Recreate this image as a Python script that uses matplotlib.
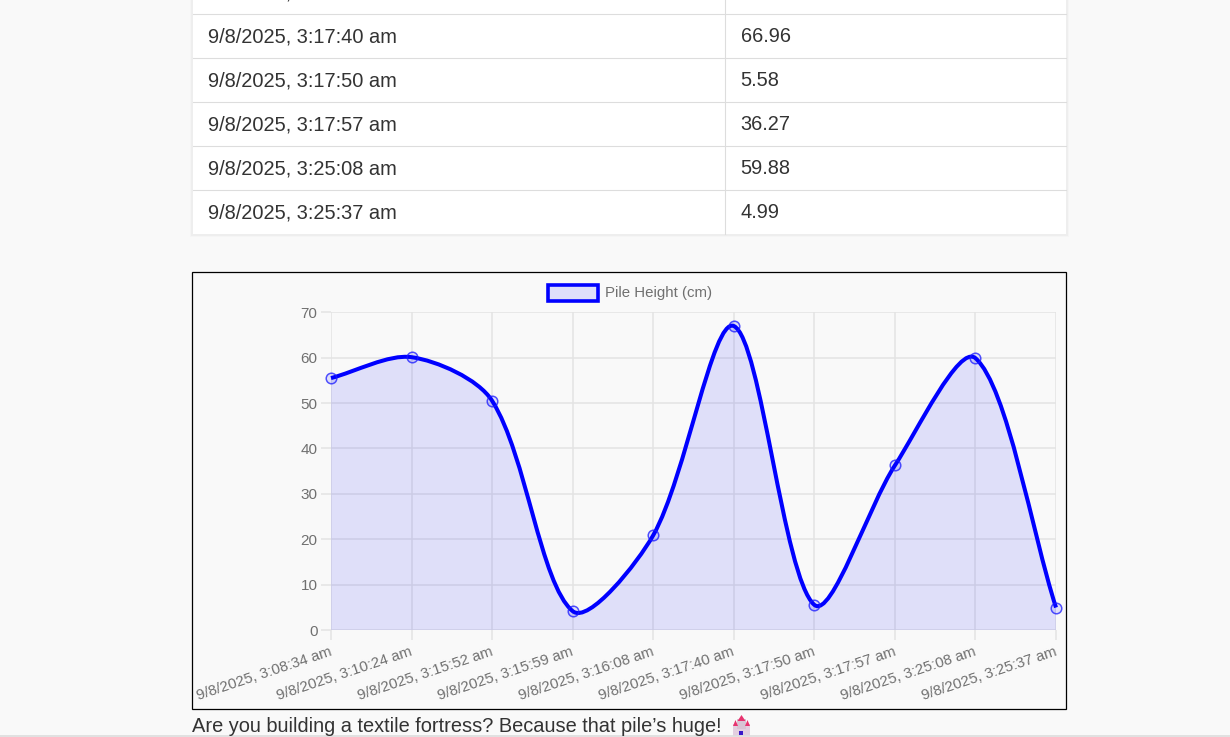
import matplotlib
matplotlib.use('Agg')
import matplotlib.pyplot as plt
import matplotlib.transforms as mtransforms
import numpy as np
from matplotlib.path import Path
from matplotlib.patches import PathPatch, Rectangle, Polygon

plt.rcParams['font.family'] = ['Liberation Sans', 'DejaVu Sans']

W, H = 1230, 737

time_labels = ["9/8/2025, 3:08:34 am", "9/8/2025, 3:10:24 am", "9/8/2025, 3:15:52 am",
               "9/8/2025, 3:15:59 am", "9/8/2025, 3:16:08 am", "9/8/2025, 3:17:40 am",
               "9/8/2025, 3:17:50 am", "9/8/2025, 3:17:57 am", "9/8/2025, 3:25:08 am",
               "9/8/2025, 3:25:37 am"]
pile_height = [55.5, 60.1, 50.5, 4.2, 20.9, 66.96, 5.58, 36.27, 59.88, 4.99]
y_ticks = [0, 10, 20, 30, 40, 50, 60, 70]

table_times = time_labels[4:]
table_values = ["21.0", "66.96", "5.58", "36.27", "59.88", "4.99"]
caption = "Are you building a textile fortress? Because that pile\u2019s huge!"
legend_label = "Pile Height (cm)"

TEXT = '#333333'
GRID = '#e4e4e4'
GRAY = '#707070'
BLUE = '#0000ff'

fig = plt.figure(figsize=(W / 100, H / 100), dpi=100, facecolor='#f9f9f9')

# page layer in pixel coordinates
page = fig.add_axes([0, 0, 1, 1])
page.set_xlim(0, W)
page.set_ylim(H, 0)
page.axis('off')

# table
for off, col in [(2, '#f5f5f5'), (1, '#eeeeee')]:
    page.add_patch(Rectangle((192 - off, -5), 875 + 2 * off, 240 + off, fc=col, ec='none'))
page.add_patch(Rectangle((193, -5), 873, 239, fc='white', ec='none'))
row_lines = [14, 58, 102, 146, 190]
for y in row_lines:
    page.plot([193, 1066], [y, y], color='#dddddd', lw=0.8)
page.plot([725, 725], [-5, 234], color='#dddddd', lw=0.8)
for i in range(len(table_times)):
    base = -2 + 44 * i
    page.text(208, base, table_times[i], fontsize=14.4, color=TEXT, va='baseline', clip_on=True)
    page.text(740.6, base, table_values[i], fontsize=14.4, color=TEXT, va='baseline', clip_on=True)

# chart box
page.add_patch(Rectangle((192, 272), 874, 437, fc='#f9f9f9', ec='black', lw=0.9))

# caption
page.text(192, 726, caption, fontsize=14.4, color=TEXT, va='center')

# castle emoji drawn from small shapes
page.add_patch(Rectangle((733, 724), 17, 12, fc='#e3cfe0', ec='none'))
page.add_patch(Rectangle((737, 719), 9, 10, fc='#d8c4d4', ec='none'))
page.add_patch(Polygon([[733, 726], [738, 726], [735.5, 720]], fc='#e8336f', ec='none'))
page.add_patch(Polygon([[745, 726], [750, 726], [747.5, 720]], fc='#e8336f', ec='none'))
page.add_patch(Polygon([[737.5, 721], [745.5, 721], [741.5, 715]], fc='#e8336f', ec='none'))
page.add_patch(Rectangle((739, 731), 4, 4, fc='#3a18c8', ec='none'))

# page footer line
page.plot([0, W], [735.5, 735.5], color='#dddddd', lw=1.2)

# legend
page.add_patch(Rectangle((547.5, 285), 50.5, 15.5, fc='#dedefa', ec=BLUE, lw=2.6))
page.text(605, 292.5, legend_label, fontsize=10.8, color=GRAY, va='center')

# chart axes: x 331..1056, y 312..630
ax = fig.add_axes([331 / W, 1 - 630.2 / H, 725 / W, 318 / H])
ax.patch.set_alpha(0)
ax.set_xlim(0, 9)
ax.set_ylim(0, 70)
for s in ax.spines.values():
    s.set_visible(False)
ax.set_axisbelow(True)
ax.grid(True, color=GRID, lw=1.1)
ax.set_xticks(range(len(time_labels)))
ax.set_xticklabels(time_labels, rotation=18.5, ha='right', va='top', rotation_mode='anchor',
                   fontsize=10.8, color=GRAY)
ax.set_yticks(y_ticks)
ax.tick_params(axis='both', color=GRID, width=1.1, length=7.2)
ax.tick_params(axis='y', labelsize=11, labelcolor=GRAY, pad=2.5)
ax.tick_params(axis='x', pad=3)
# tick_params resets label transforms, so nudge after it
shift = mtransforms.ScaledTranslation(-2 / 100, 0, fig.dpi_scale_trans)
for lab in ax.get_xticklabels():
    lab.set_transform(lab.get_transform() + shift)

# bezier control points worked out in pixel space
xs = np.arange(len(pile_height), dtype=float)
pts = ax.transData.transform(np.column_stack([xs, pile_height]))
n = len(pts)
tension = 0.3
c_prev = np.zeros_like(pts)
c_next = np.zeros_like(pts)
for i in range(n):
    a = pts[max(i - 1, 0)]
    b = pts[i]
    c = pts[min(i + 1, n - 1)]
    d01 = np.hypot(*(b - a))
    d12 = np.hypot(*(c - b))
    s01 = d01 / (d01 + d12)
    s12 = d12 / (d01 + d12)
    c_prev[i] = b - tension * s01 * (c - a)
    c_next[i] = b + tension * s12 * (c - a)

inv = ax.transData.inverted()
c_prev = inv.transform(c_prev)
c_next = inv.transform(c_next)

verts = [(xs[0], pile_height[0])]
codes = [Path.MOVETO]
for i in range(n - 1):
    verts += [tuple(c_next[i]), tuple(c_prev[i + 1]), (xs[i + 1], pile_height[i + 1])]
    codes += [Path.CURVE4] * 3

fill_verts = verts + [(xs[-1], 0), (xs[0], 0), (xs[0], pile_height[0])]
fill_codes = codes + [Path.LINETO, Path.LINETO, Path.CLOSEPOLY]
ax.add_patch(PathPatch(Path(fill_verts, fill_codes), fc=(0, 0, 1, 0.1), ec='none', zorder=2))
ax.add_patch(PathPatch(Path(verts, codes), fc='none', ec=BLUE, lw=2.9, zorder=3,
                       capstyle='butt', clip_on=False))
ax.plot(xs, pile_height, 'o', ms=7.6, mfc=(0, 0, 1, 0.1), mec=(0.1, 0.1, 1, 0.75), mew=1.1,
        zorder=4, clip_on=False)

plt.savefig('out.png', dpi=100)
plt.close()
